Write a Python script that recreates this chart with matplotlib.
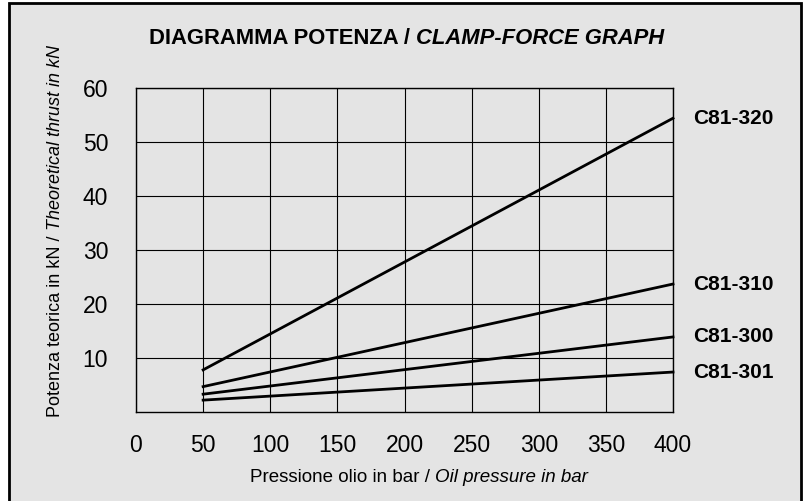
import matplotlib
matplotlib.use("Agg")
import matplotlib.pyplot as plt
from matplotlib.patches import Rectangle

plt.rcParams['font.family'] = ['Liberation Sans', 'DejaVu Sans']

# pressure in bar (start / end of each line)
pressure = [50, 400]
# theoretical thrust in kN
series = {
    "C81-320": [7.8, 54.4],
    "C81-310": [4.7, 23.7],
    "C81-300": [3.3, 13.9],
    "C81-301": [2.2, 7.4],
}
x_ticks = [0, 50, 100, 150, 200, 250, 300, 350, 400]
y_ticks = [10, 20, 30, 40, 50, 60]

BG = "#e4e4e4"
W, H = 807, 501


def main():
    fig = plt.figure(figsize=(W / 100, H / 100), dpi=100, facecolor="white")
    # grey panel with black frame
    fig.patches.append(Rectangle((9 / W, -0.02), 792 / W, 1.02 - 3 / H,
                                 transform=fig.transFigure, facecolor=BG,
                                 edgecolor="black", linewidth=2, zorder=-1))

    ax = fig.add_axes([136 / W, 89 / H, 537 / W, 324 / H])
    ax.set_facecolor("none")
    ax.set_xlim(0, 400)
    ax.set_ylim(0, 60)
    ax.set_xticks(x_ticks)
    ax.set_yticks(y_ticks)
    ax.tick_params(length=0, labelsize=16.5, colors="black")
    ax.tick_params(axis="y", pad=20)
    ax.tick_params(axis="x", pad=16)
    ax.grid(True, color="black", linewidth=0.8)
    for s in ax.spines.values():
        s.set_linewidth(1.0)

    for name, vals in series.items():
        ax.plot(pressure, vals, color="black", linewidth=2.0, zorder=3,
                clip_on=False)
        ax.annotate(name, xy=(400, vals[1]), xytext=(20, 0),
                    textcoords="offset pixels",
                    va="center", ha="left", fontsize=15, fontweight="bold",
                    annotation_clip=False)

    # title: bold + bold italic part
    t1 = fig.text(149 / W, 1 - 38 / H, "DIAGRAMMA POTENZA / ",
                  fontsize=15.8, fontweight="bold", va="center", ha="left")
    fig.canvas.draw()
    ax.annotate("CLAMP-FORCE GRAPH", xy=(1, 0.5), xycoords=t1,
                va="center", ha="left", fontsize=15.8, fontweight="bold",
                fontstyle="italic", annotation_clip=False)

    # x label
    xl = fig.text(250 / W, 1 - 477 / H, "Pressione olio in bar / ",
                  fontsize=13.5, va="center", ha="left")
    ax.annotate("Oil pressure in bar", xy=(1, 0.5), xycoords=xl,
                va="center", ha="left", fontsize=13.5, fontstyle="italic",
                annotation_clip=False)

    # y label (rotated)
    yl = fig.text(55 / W, 0.5, "Potenza teorica in kN / ",
                  fontsize=13, va="bottom", ha="center", rotation=90)
    yl2 = fig.text(55 / W, 0.5, "Theoretical thrust in kN",
                   fontsize=13, va="bottom", ha="center", rotation=90,
                   fontstyle="italic")
    r = fig.canvas.get_renderer()
    h1 = yl.get_window_extent(r).height
    h2 = yl2.get_window_extent(r).height
    centre = H - 231
    bottom = centre - (h1 + h2) / 2
    yl.set_position((55 / W, bottom / H))
    yl2.set_position((55 / W, (bottom + h1) / H))

    fig.savefig("out.png", dpi=100, facecolor="white")


if __name__ == "__main__":
    main()
